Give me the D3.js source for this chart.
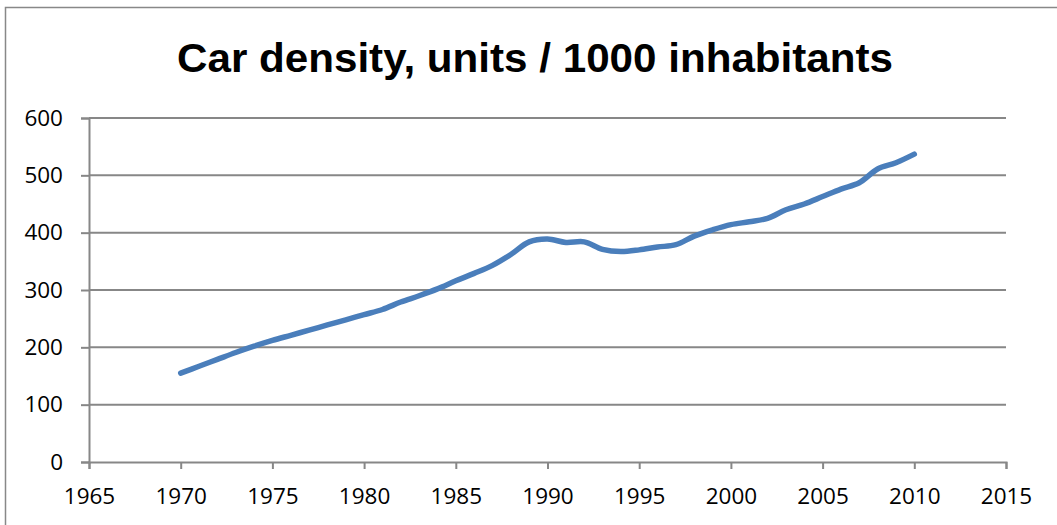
<!DOCTYPE html>
<html>
<head>
<meta charset="utf-8">
<script src="https://cdnjs.cloudflare.com/ajax/libs/d3/7.8.5/d3.min.js"></script>
<style>
  body { margin: 0; background: #fff; }
  svg { display: block; }
</style>
</head>
<body>
<div id="chart"></div>
<script>
const years = [1970, 1971, 1972, 1973, 1974, 1975, 1976, 1977, 1978, 1979,
  1980, 1981, 1982, 1983, 1984, 1985, 1986, 1987, 1988, 1989,
  1990, 1991, 1992, 1993, 1994, 1995, 1996, 1997, 1998, 1999,
  2000, 2001, 2002, 2003, 2004, 2005, 2006, 2007, 2008, 2009, 2010];
const density = [155, 167, 179, 191, 202, 212, 221, 230, 239, 248,
  257, 266, 279, 290, 302, 316, 329, 343, 362, 384,
  389, 383, 384, 371, 367, 370, 375, 379, 394, 405,
  414, 419, 425, 440, 450, 463, 476, 487, 511, 522, 537];
const xTicks = [1965, 1970, 1975, 1980, 1985, 1990, 1995, 2000, 2005, 2010, 2015];
const yTicks = [0, 100, 200, 300, 400, 500, 600];
const title = 'Car density, units / 1000 inhabitants';

const width = 1057;
const height = 525;

const svg = d3.select('#chart')
  .append('svg')
  .attr('width', width)
  .attr('height', height);

// outer chart frame
svg.append('rect')
  .attr('x', 5.5)
  .attr('y', 7.5)
  .attr('width', 1100)
  .attr('height', 600)
  .attr('fill', 'none')
  .attr('stroke', '#888')
  .attr('stroke-width', 1.5);

const x = d3.scaleLinear().domain([1965, 2015]).range([89, 1006]);
const y = d3.scaleLinear().domain([0, 600]).range([462, 118]);

const gridColor = '#878787';

// horizontal gridlines
svg.append('g')
  .selectAll('line')
  .data(yTicks.filter(d => d > 0))
  .enter()
  .append('line')
  .attr('x1', x(1965))
  .attr('x2', x(2015))
  .attr('y1', d => y(d))
  .attr('y2', d => y(d))
  .attr('stroke', gridColor)
  .attr('stroke-width', 2);

const yAxis = svg.append('g')
  .attr('transform', `translate(${x(1965)},0)`)
  .call(d3.axisLeft(y).tickValues(yTicks).tickSize(8).tickPadding(18));

const xAxis = svg.append('g')
  .attr('transform', `translate(0,${y(0)})`)
  .call(d3.axisBottom(x).tickValues(xTicks).tickSize(7).tickPadding(19).tickFormat(d3.format('d')));

[yAxis, xAxis].forEach(ax => {
  ax.select('.domain').attr('stroke', gridColor).attr('stroke-width', 2);
  ax.selectAll('.tick line').attr('stroke', gridColor).attr('stroke-width', 2);
  ax.selectAll('.tick text')
    .attr('fill', '#000')
    .style('font-family', '"Open Sans", sans-serif')
    .style('font-size', '22.5px');
});

const points = years.map((yr, i) => [yr, density[i]]);

const line = d3.line()
  .x(d => x(d[0]))
  .y(d => y(d[1]))
  .curve(d3.curveCatmullRom.alpha(0.5));

svg.append('path')
  .datum(points)
  .attr('d', line)
  .attr('fill', 'none')
  .attr('stroke', '#4a7ebb')
  .attr('stroke-width', 5.5)
  .attr('stroke-linecap', 'round')
  .attr('stroke-linejoin', 'round');

svg.append('text')
  .attr('x', 535)
  .attr('y', 72)
  .attr('text-anchor', 'middle')
  .attr('textLength', 716)
  .attr('lengthAdjust', 'spacingAndGlyphs')
  .style('font-family', '"Liberation Sans", Arial, sans-serif')
  .style('font-weight', 'bold')
  .style('font-size', '41px')
  .text(title);
</script>
</body>
</html>
